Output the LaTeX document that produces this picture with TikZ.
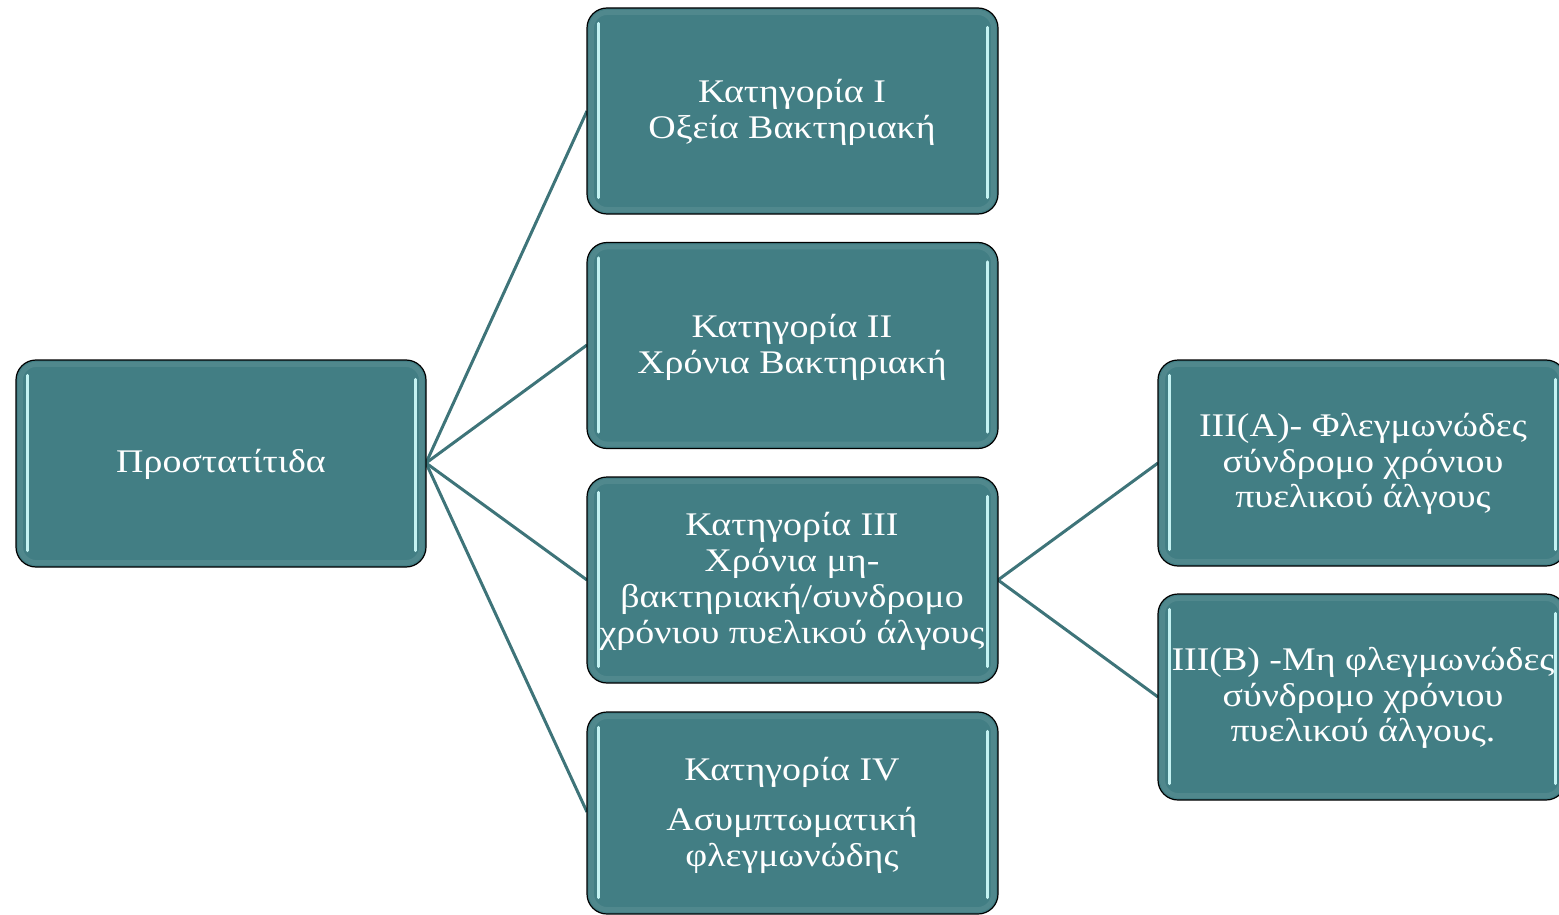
\documentclass[tikz,border=0pt]{standalone}
\usepackage{fontspec}
\setmainfont{Liberation Serif}[FakeStretch=1.15]
\definecolor{boxfill}{HTML}{427E84}
\definecolor{linkcol}{HTML}{3E7479}
\definecolor{glow}{HTML}{C4F2F2}
\tikzset{
  box/.style={draw=black, line width=1.2pt, fill=boxfill, rounded corners=20pt,
    minimum width=411pt, minimum height=206pt, inner sep=0pt},
  label/.style={text=white, align=center, font=\fontsize{33}{35.8}\selectfont, inner sep=0pt},
  link/.style={draw=linkcol, line width=3pt},
  hl/.style={draw=glow, line width=3pt, line cap=round},
  bevel/.style={draw=white, draw opacity=0.08, line width=5pt, rounded corners=16pt}
}
% inner highlights of a box
\newcommand{\shine}[1]{%
  \draw[bevel] ([shift={(5pt,-5pt)}]#1.north west) rectangle ([shift={(-5pt,5pt)}]#1.south east);
  \draw[hl] ([shift={(12pt,-16pt)}]#1.north west) -- ([shift={(12pt,17pt)}]#1.south west);
  \draw[hl] ([shift={(-11pt,-20pt)}]#1.north east) -- ([shift={(-11pt,17pt)}]#1.south east);
}
\begin{document}
\begin{tikzpicture}[x=1pt,y=-1pt]
\useasboundingbox (0,0) rectangle (1559,915);
\clip (0,0) rectangle (1559,915);

% connectors
\coordinate (rootR) at (426,463);
\coordinate (c1L) at (587,111);
\coordinate (c2L) at (587,345);
\coordinate (c3L) at (587,580);
\coordinate (c4L) at (587,812);
\coordinate (c3R) at (998,580);
\coordinate (aL) at (1158,463);
\coordinate (bL) at (1158,697);
\draw[link] (rootR) -- (c1L);
\draw[link] (rootR) -- (c2L);
\draw[link] (rootR) -- (c3L);
\draw[link] (rootR) -- (c4L);
\draw[link] (c3R) -- (aL);
\draw[link] (c3R) -- (bL);

% boxes
\node[box, minimum width=410pt, minimum height=207pt] (root) at (221,463.5) {};
\shine{root}
\node[label] (rootT) at (221,464) {Προστατίτιδα};

\node[box] (c1) at (792.5,111) {};
\shine{c1}
\node[label] (c1T) at (792,112) {Κατηγορία I\\Οξεία Βακτηριακή};

\node[box] (c2) at (792.5,345.5) {};
\shine{c2}
\node[label] (c2T) at (792,347) {Κατηγορία II\\Χρόνια Βακτηριακή};

\node[box] (c3) at (792.5,580) {};
\shine{c3}
\node[label] (c3T) at (792,581.5) {Κατηγορία III\\Χρόνια μη-\\βακτηριακή/συνδρομο\\χρόνιου πυελικού άλγους};

\node[box, minimum height=202pt] (c4) at (792.5,813) {};
\shine{c4}
\node[label] (c4T) at (792,815.5) {Κατηγορία IV\\[14pt]Ασυμπτωματική\\φλεγμωνώδης};

\node[box, minimum width=408pt] (a) at (1362,463) {};
\shine{a}
\node[label] (aT) at (1363,464) {III(A)- Φλεγμωνώδες\\σύνδρομο χρόνιου\\πυελικού άλγους};

\node[box, minimum width=408pt] (b) at (1362,697) {};
\shine{b}
\node[label] (bT) at (1363,698) {III(B) -Μη φλεγμωνώδες\\σύνδρομο χρόνιου\\πυελικού άλγους.};
\end{tikzpicture}
\end{document}
